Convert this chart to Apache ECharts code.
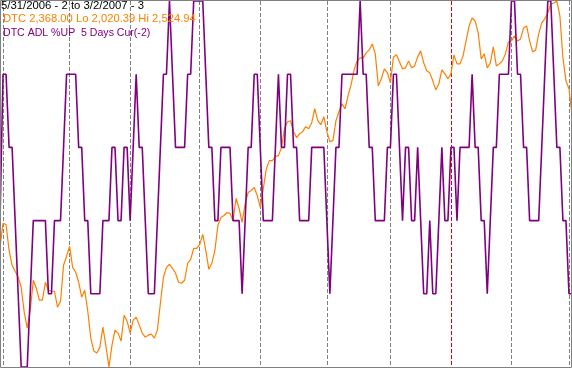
<!DOCTYPE html>
<html><head><meta charset="utf-8">
<script src="https://cdn.jsdelivr.net/npm/echarts@6/dist/echarts.min.js"></script>
<style>html,body{margin:0;padding:0;background:#fff;overflow:hidden}#c{width:572px;height:368px}</style>
</head><body><div id="c"></div>
<script>
// Trading-day index 0 = 5/31/2006 ... 189 = 3/2/2007
const dtcClose = [
2185.3,2218.3,2216.9,2181.2,2160.6,2152.3,2144.1,2130.3,2096.0,2074.0,
2098.7,2140.0,2129.0,2112.5,2112.5,2137.2,2126.2,2124.8,2124.8,2102.8,
2111.1,2160.6,2173.0,2186.7,2157.8,2151.0,2137.2,2116.6,2126.2,2097.3,
2060.2,2042.4,2039.6,2047.8,2075.3,2049.2,2020.4,2050.6,2071.2,2067.1,
2056.1,2091.8,2083.6,2067.1,2085.0,2089.1,2078.1,2067.1,2061.6,2064.3,
2065.7,2060.2,2071.2,2108.3,2144.1,2157.8,2162.0,2156.5,2149.6,2137.2,
2135.8,2140.0,2163.3,2168.8,2184.0,2184.0,2189.4,2203.2,2181.2,2155.1,
2163.3,2181.2,2215.6,2226.6,2229.3,2233.4,2232.1,2222.4,2252.7,2238.9,
2219.7,2245.8,2260.9,2263.7,2267.8,2256.8,2240.3,2266.4,2293.9,2304.9,
2304.9,2310.4,2311.8,2322.8,2348.9,2358.5,2359.9,2344.8,2336.6,2342.1,
2344.8,2351.7,2348.9,2357.2,2376.4,2359.9,2354.4,2365.4,2344.8,2331.1,
2332.4,2359.9,2372.3,2383.3,2376.4,2394.3,2409.4,2430.0,2442.4,2446.5,
2446.5,2453.4,2457.5,2465.8,2452.0,2408.0,2417.7,2431.4,2425.9,2412.2,
2447.9,2450.7,2441.0,2431.4,2432.8,2442.4,2432.8,2435.5,2447.9,2456.2,
2439.7,2428.7,2425.9,2414.9,2402.5,2410.8,2430.0,2424.5,2417.7,2424.5,
2450.7,2438.3,2438.3,2449.3,2469.9,2490.5,2501.5,2497.4,2480.9,2445.2,
2452.0,2432.8,2439.7,2461.7,2435.5,2438.3,2442.4,2452.0,2468.5,2469.9,
2476.8,2469.9,2472.7,2487.8,2490.5,2469.9,2454.8,2457.5,2479.5,2494.7,
2500.2,2508.4,2520.8,2522.2,2524.9,2504.3,2446.5,2414.9,2403.9,2368.0
];
const adlPctUp = [
40,80,80,60,60,40,20,0,0,0,
20,40,40,40,40,40,20,20,40,40,
40,60,80,80,80,80,60,60,40,40,
20,20,20,20,40,40,40,60,60,40,
40,60,60,40,60,80,60,60,40,20,
20,20,40,60,80,80,100,80,60,60,
60,60,80,80,100,100,100,100,80,60,
60,40,40,60,60,60,60,40,40,40,
20,40,60,60,80,80,60,40,40,40,
40,60,80,60,60,80,80,60,60,40,
40,40,40,60,60,60,60,60,40,20,
40,60,60,80,80,80,80,80,80,100,
80,80,60,60,40,40,40,40,60,60,
80,80,60,40,60,60,40,40,60,40,
20,20,40,20,20,40,60,40,40,60,
60,40,60,60,60,60,80,60,60,40,
40,20,40,60,60,80,80,80,80,100,
100,80,80,60,60,40,40,40,40,60,
80,100,100,80,60,60,40,40,20,20
];
const monthStartIdx = [1,23,43,66,86,108,129,149,169,188];
const yearStartIdx = 149;
const dtcLo = 2020.39, dtcHi = 2524.94;
const headerLines = [
  '5/31/2006 - 2 to 3/2/2007 - 3',
  'DTC 2,368.00 Lo 2,020.39 Hi 2,524.94',
  'DTC ADL %UP  5 Days Cur(-2)'
];

const dayIdx = dtcClose.map((_, i) => String(i));
const FONT = '11px "Liberation Sans", Arial, sans-serif';
const hiddenParts = {axisLine: {show: false}, axisTick: {show: false}, axisLabel: {show: false}};

const chart = echarts.init(document.getElementById('c'), null, {renderer: 'canvas'});
chart.setOption({
  animation: false,
  backgroundColor: '#ffffff',
  grid: {left: 0, right: 0, top: 1, bottom: 1, show: false},
  xAxis: [
    Object.assign({
      type: 'category', data: dayIdx, boundaryGap: false,
      splitLine: {
        show: true,
        interval: (idx) => idx !== yearStartIdx && monthStartIdx.indexOf(idx) >= 0,
        lineStyle: {color: '#808080', width: 1, type: [4, 2]}
      }
    }, hiddenParts),
    Object.assign({
      type: 'category', data: dayIdx, boundaryGap: false, position: 'bottom',
      splitLine: {
        show: true,
        interval: (idx) => idx === yearStartIdx,
        lineStyle: {color: '#e00000', width: 1, type: [4, 2]}
      }
    }, hiddenParts)
  ],
  yAxis: [
    {type: 'value', min: 0, max: 100, show: false, splitLine: {show: false}},
    {type: 'value', min: dtcLo, max: dtcHi, show: false, splitLine: {show: false}}
  ],
  series: [
    {name: 'DTC', type: 'line', xAxisIndex: 0, yAxisIndex: 1, data: dtcClose, showSymbol: false, symbol: 'none',
     lineStyle: {color: '#ff8000', width: 1.2}, z: 2},
    {name: 'DTC ADL %UP', type: 'line', xAxisIndex: 0, yAxisIndex: 0, data: adlPctUp, showSymbol: false, symbol: 'none',
     lineStyle: {color: '#800080', width: 1.6}, z: 3}
  ],
  graphic: [
    {type: 'rect', silent: true, z: 10, shape: {x: 0.5, y: 0.5, width: 571, height: 367},
     style: {fill: null, stroke: '#808080', lineWidth: 1}},
    {type: 'text', z: 11, x: 1, y: 0, scaleX: 1.03, style: {text: headerLines[0], font: FONT, fill: '#000000', verticalAlign: 'top'}},
    {type: 'text', z: 11, x: 3, y: 13.5, scaleX: 1.02, style: {text: headerLines[1], font: FONT, fill: '#ff8000', verticalAlign: 'top'}},
    {type: 'text', z: 11, x: 3, y: 27, scaleX: 0.96, style: {text: headerLines[2], font: FONT, fill: '#800080', verticalAlign: 'top'}}
  ]
});
</script>
</body></html>
